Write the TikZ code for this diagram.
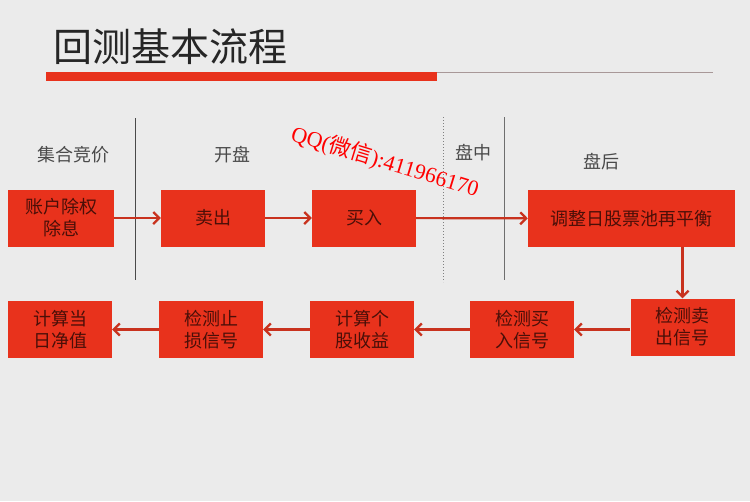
\documentclass[tikz,border=0pt]{standalone}
\usepackage{fontspec}
\setmainfont{Noto Sans CJK SC}
\newfontfamily\wmlatin{Liberation Serif}
\usetikzlibrary{arrows.meta,positioning}
\definecolor{btred}{HTML}{E8321C}
\definecolor{bttext}{HTML}{4A0F08}
\definecolor{btarrow}{HTML}{C8321E}
\definecolor{btbg}{HTML}{EBEBEB}
\definecolor{btgrey}{HTML}{4A4A4A}
\definecolor{btrule}{HTML}{A89898}
\begin{document}
\begin{tikzpicture}[x=1pt,y=-1pt, every node/.style={font=\fontsize{18}{22}\selectfont},
  procbox/.style={fill=btred, text=bttext, font=\fontsize{18}{22}\selectfont\color{bttext}, minimum width=104pt, minimum height=57pt, align=center, inner sep=0pt},
  flow/.style={btarrow, line width=2.2pt, -{Straight Barb[length=6pt,width=12pt]}},
  phase/.style={text=btgrey}]
% background and page size
\fill[btbg] (0,0) rectangle (750,501);
\useasboundingbox (0,0) rectangle (750,501);
% title
\node[anchor=west, text=black!85, font=\fontsize{39}{42}\selectfont] (title) at (50,47) {回测基本流程};
\fill[btred] (46,72) rectangle (437,81);
\draw[btrule, line width=1pt] (437,72.5) -- (713,72.5);
% phase separators
\draw[btgrey, line width=0.8pt] (135,118) -- (135,280);
\draw[btgrey!70, dotted, line width=1pt] (443,117) -- (443,282);
\draw[btgrey!80, line width=0.8pt] (504,117) -- (504,280);
% phase labels
\node[phase] (auction) at (73,155) {集合竞价};
\node[phase] (open) at (232,155) {开盘};
\node[phase] (intraday) at (473,153) {盘中};
\node[phase] (close) at (601,162) {盘后};
% top row
\node[procbox, minimum width=106pt] (exright) at (61,218) {账户除权\\除息};
\node[procbox] (sell) at (213,218) {卖出};
\node[procbox] (buy) at (364,218) {买入};
\node[procbox, minimum width=207pt] (rebal) at (631.5,218.5) {调整日股票池再平衡};
% bottom row
\node[procbox] (sellsig) at (682.5,327) {检测卖\\出信号};
\node[procbox] (buysig) at (522,329.5) {检测买\\入信号};
\node[procbox] (ret) at (362,329.5) {计算个\\股收益};
\node[procbox] (stoploss) at (211,329.5) {检测止\\损信号};
\node[procbox] (nav) at (60,329.5) {计算当\\日净值};
% connectors
\draw[flow] (exright) -- (sell);
\draw[flow] (sell) -- (buy);
\draw[flow] (buy) -- (rebal);
\draw[flow] (rebal.south -| sellsig) -- (sellsig);
\draw[flow] (sellsig.west |- buysig) -- (buysig);
\draw[flow] (buysig) -- (ret);
\draw[flow] (ret) -- (stoploss);
\draw[flow] (stoploss) -- (nav);
% watermark
\node[rotate=-17, text=red, font=\fontsize{22}{22}\selectfont] (qq) at (385,162) {{\wmlatin QQ(}微信{\wmlatin ):411966170}};
\end{tikzpicture}
\end{document}
